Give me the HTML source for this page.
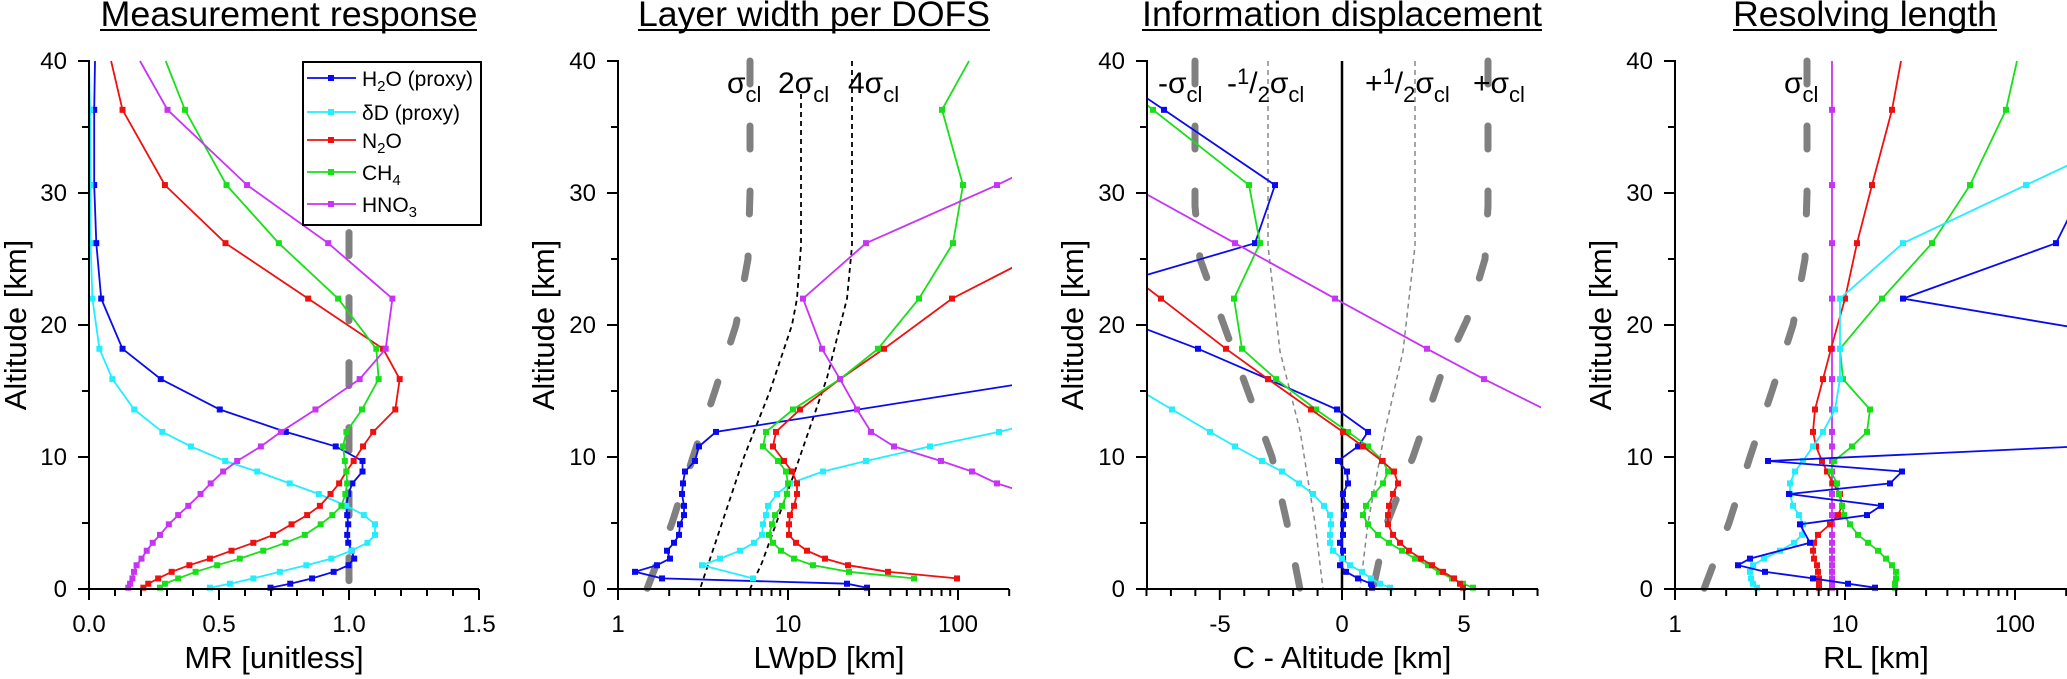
<!DOCTYPE html>
<html><head><meta charset="utf-8"><style>
html,body{margin:0;padding:0;background:#fff;}
svg{display:block;font-family:"Liberation Sans",Arial,sans-serif;}
</style></head><body>
<svg id="s" width="2067" height="679" viewBox="0 0 2067 679" xmlns="http://www.w3.org/2000/svg">
<defs>
<clipPath id="c1"><rect x="89" y="55" width="394" height="540"/></clipPath>
<clipPath id="c2"><rect x="618" y="55" width="394" height="540"/></clipPath>
<clipPath id="c3"><rect x="1147" y="55" width="394" height="540"/></clipPath>
<clipPath id="c4"><rect x="1675" y="55" width="392" height="540"/></clipPath>
</defs>
<g id="g1" clip-path="url(#c1)"></g>
<g id="g2" clip-path="url(#c2)"></g>
<g id="g3" clip-path="url(#c3)"></g>
<g id="g4" clip-path="url(#c4)"></g>
<g id="ax" stroke="#000" stroke-width="2" fill="none"></g>

<!-- legend -->
<g id="leg">
<rect x="303" y="62" width="178" height="163" fill="#fff" stroke="#000" stroke-width="2"/>
</g>
<g font-size="21" fill="#000">
<text x="362" y="86">H<tspan font-size="15" dy="5">2</tspan><tspan dy="-5">O (proxy)</tspan></text>
<text x="362" y="120">δD (proxy)</text>
<text x="362" y="148">N<tspan font-size="15" dy="5">2</tspan><tspan dy="-5">O</tspan></text>
<text x="362" y="180">CH<tspan font-size="15" dy="5">4</tspan></text>
<text x="362" y="212">HNO<tspan font-size="15" dy="5">3</tspan></text>
</g>

<!-- titles -->
<g font-size="35" fill="#000" text-anchor="middle">
<text x="289" y="26" textLength="377" lengthAdjust="spacingAndGlyphs">Measurement response</text>
<text x="814" y="26" textLength="352" lengthAdjust="spacingAndGlyphs">Layer width per DOFS</text>
<text x="1342" y="26" textLength="400" lengthAdjust="spacingAndGlyphs">Information displacement</text>
<text x="1865" y="26" textLength="264" lengthAdjust="spacingAndGlyphs">Resolving length</text>
</g>
<g stroke="#000" stroke-width="2">
<line x1="100" y1="30" x2="477" y2="30"/>
<line x1="638" y1="30" x2="990" y2="30"/>
<line x1="1142" y1="30" x2="1542" y2="30"/>
<line x1="1733" y1="30" x2="1997" y2="30"/>
</g>

<!-- y tick labels -->
<g font-size="24" fill="#000" text-anchor="end" id="ylab">
<text x="67" y="597">0</text><text x="67" y="465">10</text><text x="67" y="333">20</text><text x="67" y="201">30</text><text x="67" y="69">40</text>
<text x="596" y="597">0</text><text x="596" y="465">10</text><text x="596" y="333">20</text><text x="596" y="201">30</text><text x="596" y="69">40</text>
<text x="1125" y="597">0</text><text x="1125" y="465">10</text><text x="1125" y="333">20</text><text x="1125" y="201">30</text><text x="1125" y="69">40</text>
<text x="1653" y="597">0</text><text x="1653" y="465">10</text><text x="1653" y="333">20</text><text x="1653" y="201">30</text><text x="1653" y="69">40</text>
</g>
<!-- x tick labels -->
<g font-size="24" fill="#000" text-anchor="middle">
<text x="89" y="632">0.0</text><text x="219" y="632">0.5</text><text x="349" y="632">1.0</text><text x="479" y="632">1.5</text>
<text x="618" y="632">1</text><text x="788" y="632">10</text><text x="958" y="632">100</text>
<text x="1220" y="632">-5</text><text x="1342" y="632">0</text><text x="1464" y="632">5</text>
<text x="1675" y="632">1</text><text x="1845" y="632">10</text><text x="2015" y="632">100</text>
</g>
<!-- axis labels -->
<g font-size="31" fill="#000" text-anchor="middle">
<text x="274" y="668">MR [unitless]</text>
<text x="829" y="668">LWpD [km]</text>
<text x="1342" y="668">C - Altitude [km]</text>
<text x="1876" y="668">RL [km]</text>
<text transform="translate(26,325) rotate(-90)">Altitude [km]</text>
<text transform="translate(554,325) rotate(-90)">Altitude [km]</text>
<text transform="translate(1083,325) rotate(-90)">Altitude [km]</text>
<text transform="translate(1611,325) rotate(-90)">Altitude [km]</text>
</g>
<!-- sigma labels -->
<g font-size="30" fill="#000">
<text x="727" y="93">σ<tspan font-size="22" dy="9">cl</tspan></text>
<text x="778" y="93">2σ<tspan font-size="22" dy="9">cl</tspan></text>
<text x="848" y="93">4σ<tspan font-size="22" dy="9">cl</tspan></text>
<text x="1158" y="93">-σ<tspan font-size="22" dy="9">cl</tspan></text>
<text x="1227" y="93">-<tspan font-size="22" dy="-9">1</tspan><tspan dy="9">/</tspan><tspan font-size="22" dy="9">2</tspan><tspan dy="-9">σ</tspan><tspan font-size="22" dy="9">cl</tspan></text>
<text x="1365" y="93">+<tspan font-size="22" dy="-9">1</tspan><tspan dy="9">/</tspan><tspan font-size="22" dy="9">2</tspan><tspan dy="-9">σ</tspan><tspan font-size="22" dy="9">cl</tspan></text>
<text x="1473" y="93">+σ<tspan font-size="22" dy="9">cl</tspan></text>
<text x="1784" y="93">σ<tspan font-size="22" dy="9">cl</tspan></text>
</g>
</svg>
<script>
(function(){
var NS="http://www.w3.org/2000/svg";
function el(p,n,a){var e=document.createElementNS(NS,n);for(var k in a)e.setAttribute(k,a[k]);p.appendChild(e);return e;}
var Y=function(a){return 589-13.2*a;};
var A=[0.1,0.4,0.8,1.3,1.8,2.3,2.9,3.5,4.1,4.9,5.6,6.3,7.2,8.0,8.9,9.7,10.8,11.9,13.6,15.9,18.2,22,26.2,30.6,36.3];
var C={b:"#0a0af0",c:"#22eeff",r:"#f01010",g:"#18e018",m:"#c833f5"};
function series(g,xs,top,col,fx){
  fx=fx||function(v){return v;};
  var pts=[],mk=[];
  for(var i=0;i<A.length;i++){if(xs[i]==null)continue;var x=fx(xs[i]),y=Y(A[i]);pts.push(x.toFixed(1)+","+y.toFixed(1));mk.push([x,y]);}
  if(top!=null)pts.push(fx(top).toFixed(1)+","+Y(40).toFixed(1));
  el(g,"polyline",{points:pts.join(" "),fill:"none",stroke:col,"stroke-width":1.8});
  mk.forEach(function(p){el(g,"rect",{x:p[0]-3,y:p[1]-3,width:6,height:6,fill:col});});
}
function curve(g,arr,col,w,dash,cap){
  var a=arr.slice().sort(function(p,q){return q[1]-p[1];});
  el(g,"polyline",{points:a.map(function(p){return p[0]+","+Y(p[1]).toFixed(1);}).join(" "),fill:"none",stroke:col,"stroke-width":w,"stroke-dasharray":dash,"stroke-linecap":cap||"butt"});
}
var g1=document.getElementById("g1"),g2=document.getElementById("g2"),g3=document.getElementById("g3"),g4=document.getElementById("g4"),ax=document.getElementById("ax");
var TH="23 42";
// panel 1
var f1=function(v){return 89+260*v;};
curve(g1,[[349,27],[349,0.3]],"#808080",7,TH,"round");
series(g1,[0.698,0.774,0.858,0.941,0.998,1.02,1.01,0.997,0.993,0.997,0.993,0.99,0.997,1.013,1.052,1.052,0.949,0.757,0.503,0.276,0.129,0.047,0.028,0.02,0.02],0.023,C.b,f1);
series(g1,[0.465,0.542,0.632,0.734,0.836,0.932,1.009,1.071,1.10,1.10,1.057,0.99,0.884,0.772,0.647,0.524,0.392,0.282,0.174,0.09,0.04,0.013,0.006,0.006,0.004],0,C.c,f1);
series(g1,[0.209,0.228,0.266,0.318,0.386,0.465,0.548,0.632,0.708,0.779,0.839,0.888,0.929,0.962,0.99,1.018,1.054,1.093,1.178,1.195,1.131,0.843,0.525,0.292,0.129],0.085,C.r,f1);
series(g1,[0.273,0.292,0.343,0.41,0.493,0.58,0.67,0.756,0.83,0.891,0.936,0.971,0.986,0.993,0.99,0.984,0.977,0.99,1.05,1.114,1.105,0.958,0.73,0.529,0.369],0.295,C.g,f1);
series(g1,[0.151,0.158,0.167,0.173,0.183,0.202,0.222,0.245,0.273,0.307,0.343,0.382,0.429,0.468,0.516,0.57,0.661,0.738,0.871,1.041,1.141,1.167,0.92,0.608,0.302],0.196,C.m,f1);
// panel 2
var sig=[[647,0],[672,5],[693,10],[715,15],[736,20],[748,25],[750,30],[750,40]];
curve(g2,sig,"#808080",7,TH,"round");
curve(g2,[[700,0],[722,5],[744,10],[770,15],[792,20],[797,22],[801,26],[801,37.5]],"#000",1.8,"5 4");
curve(g2,[[750,0],[762,2],[793,8.5],[827,16],[847,22],[852,26],[852,40]],"#000",1.8,"5 4");
series(g2,[867,847,662,635,657,670,667,674,679,680,684,684,682,683,685,695,699,716,null,1051,1300,1500,1600,1700,1800],null,C.b);
series(g2,[null,null,753,null,702,720,740,754,762,763,766,768,777,790,823,866,930,999,1090,1200,1300,1400,1500,1600,1700],null,C.c);
series(g2,[null,null,957,888,848,825,807,796,789,789,790,794,797,797,792,784,773,776,800,840,884,952,1060,1150,1250],null,C.r);
series(g2,[null,null,914,849,813,794,781,773,769,772,775,782,787,788,786,778,763,766,793,840,878,919,953,963,942],969,C.g);
series(g2,[null,null,null,null,null,null,null,null,null,null,null,1070,1030,997,972,941,894,871,857,840,822,803,866,997,1150],null,C.m);
// panel 3
el(g3,"line",{x1:1342,y1:Y(40),x2:1342,y2:Y(0),stroke:"#000","stroke-width":2.5});
curve(g3,[[1323,0],[1315,5],[1300,12],[1280,18],[1268,26],[1268,40]],"#888",1.5,"5 4");
curve(g3,[[1360,0],[1368,5],[1385,12],[1403,18],[1415,26],[1415,40]],"#888",1.5,"5 4");
curve(g3,[[1373,0],[1387,5],[1413,10],[1440,16],[1467,20.4],[1485,25],[1488,29],[1488,40]],"#808080",7,TH,"round");
curve(g3,[[1300,0],[1287,5],[1272,10],[1243,16],[1222,20.4],[1200,25],[1195,29],[1195,40]],"#808080",7,TH,"round");
series(g3,[1372,1371,1358,1346,1340,1343,1343,1340,1343,1343,1344,1346,1343,1348,1347,1338,1358,1368,1337,1268,1198,1066,1255,1275,1164],1092,C.b);
series(g3,[1473,1463,1452,1439,1428,1415,1402,1389,1378,1368,1363,1366,1374,1383,1388,1383,1368,1348,1316,1276,1242,1234,1260,1249,1153],1091,C.g);
series(g3,[1463,1460,1454,1443,1432,1421,1409,1400,1393,1388,1388,1389,1393,1398,1394,1382,1363,1343,1311,1268,1226,1161,1089,1000,null],null,C.r);
series(g3,[null,null,null,null,null,null,null,null,null,null,null,null,null,null,null,null,null,1600,1545,1484,1427,1335,1235,1130,null],null,C.m);
series(g3,[1390,1380,1371,1362,1350,1342,1333,1330,1330,1331,1330,1324,1313,1299,1282,1262,1235,1210,1172,1121,1070,null,null,null,null],null,C.c);
// panel 4
curve(g4,sig.map(function(p){return [p[0]+1057,p[1]];}),"#808080",7,TH,"round");
series(g4,[1832,1832,1832,1832,1832,1832,1832,1832,1832,1832,1832,1832,1832,1832,1832,1832,1832,1832,1832,1832,1832,1832,1832,1832,1832],1832,C.m);
series(g4,[1819,1819,1819,1818,1817,1814,1813,1814,1818,1830,1838,1842,1840,1833,1827,1822,1816,1813,1815,1823,1831,1845,1857,1872,1892],1901,C.r);
series(g4,[1895,1895,1896,1896,1892,1886,1878,1868,1858,1850,1844,1842,1839,1837,1831,1834,1852,1867,1870,1843,1840,1882,1932,1970,2006],2017,C.g);
series(g4,[1757,1753,1751,1750,1753,1764,1780,1794,1802,1803,1799,1793,1790,1790,1795,1803,1813,1823,1835,1840,1840,1840,1903,2026,2186],null,C.c);
series(g4,[1875,1848,1813,1765,1738,1750,null,1810,null,1800,1867,1881,1789,1890,1902,1768,2080,2300,2300,2300,2200,1903,2056,2085,null],null,C.b);
// axes
var L=[89,618,1147,1675],R=[479,1009,1538,2067];
for(var p=0;p<4;p++){
  var l=L[p],r=R[p];
  el(ax,"line",{x1:l,y1:Y(40)-1,x2:l,y2:Y(0)+1});
  el(ax,"line",{x1:l-1,y1:Y(0),x2:r,y2:Y(0)});
  for(var a=0;a<=40;a+=5){var len=(a%10==0)?11:7;el(ax,"line",{x1:l-len,y1:Y(a),x2:l,y2:Y(a)});}
  var xt=[];
  if(p==0){for(var i=0;i<=15;i++)xt.push([89+26*i,i%5==0]);}
  else if(p==2){for(var i=-8;i<=8;i++)xt.push([1342+24.44*i,i%5==0]);}
  else{[1,10,100].forEach(function(d){for(var m=1;m<=9;m++){var v=m*d;if(v>200)break;xt.push([l+170*Math.log10(v),m==1]);}});}
  xt.forEach(function(t){el(ax,"line",{x1:t[0],y1:Y(0),x2:t[0],y2:Y(0)+(t[1]?11:7)});});
}
// legend entries
var leg=document.getElementById("leg");
[[78,C.b],[112,C.c],[140,C.r],[172,C.g],[204,C.m]].forEach(function(e){
  el(leg,"line",{x1:307,y1:e[0],x2:356,y2:e[0],stroke:e[1],"stroke-width":1.8});
  el(leg,"rect",{x:328,y:e[0]-3,width:6,height:6,fill:e[1]});
});
})();
</script>
</body></html>
